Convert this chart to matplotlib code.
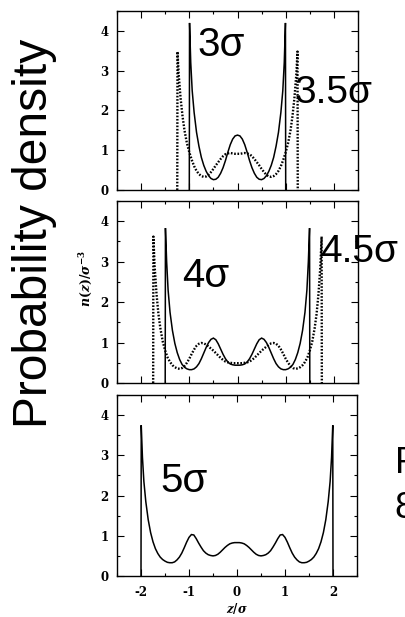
import numpy as np
import matplotlib
matplotlib.use("Agg")
import matplotlib.pyplot as plt
from matplotlib.ticker import MultipleLocator

plt.rcParams['mathtext.fontset'] = 'custom'
plt.rcParams['mathtext.it'] = 'DejaVu Serif:italic:bold'
plt.rcParams['mathtext.rm'] = 'DejaVu Serif:bold'
plt.rcParams['mathtext.bf'] = 'DejaVu Serif:bold'
plt.rcParams['axes.unicode_minus'] = False

# ---- data (left halves; profiles are symmetric about z = 0) ----
z_3 = [-1.0, -0.995, -0.97, -0.94, -0.9, -0.85, -0.8, -0.75, -0.7, -0.65, -0.6, -0.55,
       -0.5, -0.45, -0.4, -0.35, -0.3, -0.25, -0.2, -0.15, -0.1, -0.05, 0.0]
n_3 = [0.0, 4.2, 3.2, 2.5, 1.95, 1.45, 1.1, 0.82, 0.62, 0.47, 0.36, 0.29,
       0.26, 0.27, 0.32, 0.42, 0.56, 0.74, 0.95, 1.14, 1.28, 1.36, 1.38]

z_35 = [-1.25, -1.245, -1.22, -1.18, -1.14, -1.1, -1.05, -1.0, -0.95, -0.9, -0.85, -0.8,
        -0.75, -0.7, -0.65, -0.6, -0.55, -0.5, -0.45, -0.4, -0.35, -0.3, -0.25, -0.2,
        -0.15, -0.1, -0.05, 0.0]
n_35 = [0.0, 3.48, 2.9, 2.3, 1.85, 1.5, 1.18, 0.95, 0.76, 0.6, 0.48, 0.4,
        0.35, 0.33, 0.34, 0.38, 0.45, 0.53, 0.62, 0.7, 0.78, 0.85, 0.9, 0.92,
        0.93, 0.92, 0.91, 0.91]

z_4 = [-1.5, -1.495, -1.47, -1.44, -1.4, -1.35, -1.3, -1.25, -1.2, -1.15, -1.1, -1.05,
       -1.0, -0.95, -0.9, -0.85, -0.8, -0.75, -0.7, -0.65, -0.6, -0.55, -0.5, -0.45,
       -0.4, -0.35, -0.3, -0.25, -0.2, -0.15, -0.1, -0.05, 0.0]
n_4 = [0.0, 3.83, 3.0, 2.3, 1.75, 1.3, 0.98, 0.75, 0.58, 0.46, 0.39, 0.35,
       0.33, 0.33, 0.35, 0.4, 0.48, 0.6, 0.74, 0.88, 1.0, 1.08, 1.11, 1.07,
       0.97, 0.84, 0.71, 0.6, 0.52, 0.47, 0.45, 0.44, 0.44]

z_45 = [-1.75, -1.745, -1.72, -1.68, -1.64, -1.6, -1.55, -1.5, -1.45, -1.4, -1.35, -1.3,
        -1.25, -1.2, -1.15, -1.1, -1.05, -1.0, -0.95, -0.9, -0.85, -0.8, -0.75, -0.7,
        -0.65, -0.6, -0.55, -0.5, -0.45, -0.4, -0.35, -0.3, -0.25, -0.2, -0.15, -0.1,
        -0.05, 0.0]
n_45 = [0.0, 3.62, 2.9, 2.2, 1.7, 1.35, 1.02, 0.8, 0.63, 0.52, 0.44, 0.39,
        0.36, 0.35, 0.37, 0.42, 0.5, 0.6, 0.72, 0.83, 0.92, 0.97, 0.99, 0.98,
        0.95, 0.9, 0.85, 0.8, 0.74, 0.68, 0.62, 0.57, 0.53, 0.51, 0.5, 0.49,
        0.49, 0.49]

z_5 = [-2.0, -1.995, -1.97, -1.94, -1.9, -1.85, -1.8, -1.75, -1.7, -1.65, -1.6, -1.55,
       -1.5, -1.45, -1.4, -1.35, -1.3, -1.25, -1.2, -1.15, -1.1, -1.05, -1.0, -0.95,
       -0.9, -0.85, -0.8, -0.75, -0.7, -0.65, -0.6, -0.55, -0.5, -0.45, -0.4, -0.35,
       -0.3, -0.25, -0.2, -0.15, -0.1, -0.05, 0.0]
n_5 = [0.0, 3.75, 2.95, 2.35, 1.85, 1.4, 1.08, 0.85, 0.68, 0.56, 0.47, 0.41,
       0.37, 0.34, 0.33, 0.33, 0.35, 0.4, 0.47, 0.57, 0.7, 0.84, 0.96, 1.03,
       1.02, 0.93, 0.82, 0.72, 0.63, 0.57, 0.53, 0.51, 0.5, 0.51, 0.54, 0.59,
       0.65, 0.71, 0.76, 0.8, 0.82, 0.83, 0.83]

panel_labels = [("3σ", "3.5σ"), ("4σ", "4.5σ"), ("5σ", None)]
x_ticks = [-2, -1, 0, 1, 2]
y_ticks = [0, 1, 2, 3, 4]


def mirror(z, n):
    z = np.asarray(z, float)
    n = np.asarray(n, float)
    return (np.concatenate([z, -z[-2::-1]]), np.concatenate([n, n[-2::-1]]))


W, H = 405, 617
fig = plt.figure(figsize=(W / 100, H / 100), dpi=100)


def px_axes(left, top, right, bottom):
    return fig.add_axes([left / W, 1 - bottom / H, (right - left) / W, (bottom - top) / H])


ax1 = px_axes(117, 11, 358, 190)
ax2 = px_axes(117, 201, 358, 383)
ax3 = px_axes(117, 395, 357, 576)

solid_kw = dict(color='black', lw=1.1, solid_joinstyle='miter')
dot_kw = dict(color='black', lw=1.7, linestyle=(0, (0.7, 0.7)))

ax1.plot(*mirror(z_3, n_3), **solid_kw)
ax1.plot(*mirror(z_35, n_35), **dot_kw)
ax2.plot(*mirror(z_4, n_4), **solid_kw)
ax2.plot(*mirror(z_45, n_45), **dot_kw)
ax3.plot(*mirror(z_5, n_5), **solid_kw)

for i, ax in enumerate([ax1, ax2, ax3]):
    ax.set_xlim(-2.5, 2.5)
    ax.set_ylim(0, 4.5)
    ax.set_xticks(x_ticks)
    ax.set_yticks(y_ticks)
    ax.xaxis.set_minor_locator(MultipleLocator(0.5))
    ax.yaxis.set_minor_locator(MultipleLocator(0.5))
    ax.tick_params(which='both', direction='in', top=True, right=True, width=0.8)
    ax.tick_params(which='major', length=5)
    ax.tick_params(which='minor', length=2.5)
    ax.tick_params(axis='y', pad=6)
    ax.tick_params(axis='x', pad=7)
    for sp in ax.spines.values():
        sp.set_linewidth(1.0)
    for lab in ax.get_xticklabels() + ax.get_yticklabels():
        lab.set_fontfamily('DejaVu Serif')
        lab.set_fontweight('bold')
        lab.set_fontsize(8.5)
    if i < 2:
        ax.tick_params(labelbottom=False)

big = dict(family='Liberation Sans', color='black')


def ftext(x, y, s, **kw):
    fig.text(x / W, 1 - y / H, s, **kw)


lab_pos = [((197, 56), (295, 103)), ((182, 287), (320, 262)), ((160, 492), None)]
for (l1, l2), (p1, p2) in zip(panel_labels, lab_pos):
    ftext(p1[0], p1[1], l1, ha='left', va='baseline', fontsize=29, **big)
    if l2 is not None:
        ftext(p2[0], p2[1], l2, ha='left', va='baseline', fontsize=28, **big)

ftext(35, 233, "Probability density", rotation=90, ha='center', va='center',
      fontsize=34.5, **big)
ftext(395, 473, "F", ha='left', va='baseline', fontsize=26, **big)
ftext(394, 518, "8", ha='left', va='baseline', fontsize=26, **big)

ftext(86, 278, r'$n(z)/\sigma^{-3}$', rotation=90, ha='center', va='center', fontsize=9)
ftext(237, 609, r'$z/\sigma$', ha='center', va='center', fontsize=8.5)

fig.savefig("out.png", dpi=100)
